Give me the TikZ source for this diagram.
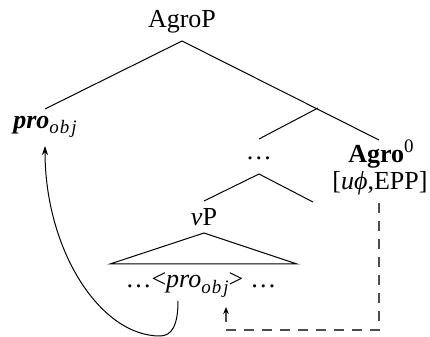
\documentclass[tikz,border=0pt]{standalone}
\usepackage{fontspec}
\setmainfont{Liberation Serif}
\usetikzlibrary{arrows.meta}
\begin{document}
\begin{tikzpicture}[x=0.5pt,y=-0.5pt,
  lbl/.style={inner sep=0pt, font=\fontsize{13}{15}\selectfont},
  branch/.style={line width=0.5pt},
  movearrow/.style={line width=0.5pt,-{Stealth[length=4.5pt,width=3pt]}},
  agree/.style={line width=0.6pt, draw=black!70, dash pattern=on 5pt off 4pt,
     -{Stealth[length=3.5pt,width=2.8pt,black]}}]
\useasboundingbox (0,0) rectangle (430,337);
% labels
\node[lbl] (agrop) at (182,22) {AgroP};
\node[lbl] (pro) at (45,127) {\textbf{\textit{pro}}\raisebox{-0.45ex}{\fontsize{9.5}{10}\selectfont\itshape o\kern0.5pt b\kern1pt j}};
\node[lbl] (dots) at (259,158) {\ldots};
\node[lbl] (agro) at (381,154) {\textbf{Agro}\raisebox{0.9ex}{\fontsize{9.5}{10}\selectfont 0}};
\node[lbl] (feat) at (380,183) {[\textit{u}\textit{ϕ},EPP]};
\node[lbl] (vp) at (204,217) {\textit{v}P};
\node[lbl] (low) at (201,285) {\ldots<\textit{pro}\raisebox{-0.45ex}{\fontsize{9.5}{10}\selectfont\itshape o\kern0.5pt b\kern1pt j}>\;\ldots};
% attach points
\coordinate (agropB) at (182,41);
\coordinate (proT) at (45,109);
\coordinate (bar) at (318,108);
\coordinate (dotsT) at (259,139);
\coordinate (agroT) at (379,140);
\coordinate (dotsB) at (259,174);
\coordinate (vpT) at (204,201);
\coordinate (emptyT) at (313,202);
\coordinate (triA) at (204,233);
\coordinate (triL) at (110,264);
\coordinate (triR) at (297,264);
\coordinate (lowB) at (178,301);
\coordinate (bend) at (160,336);
\coordinate (proB) at (45,146);
\coordinate (featB) at (379,203);
\coordinate (c1) at (379,330);
\coordinate (c2) at (226,330);
\coordinate (lowT) at (226,307);
% tree
\draw[branch] (proT) -- (agropB) -- (agroT);
\draw[branch] (dotsT) -- (bar);
\draw[branch] (vpT) -- (dotsB) -- (emptyT);
\draw[branch] (triL) -- (triA) -- (triR) -- cycle;
% movement
\draw[movearrow] (lowB) .. controls (178,325) and (172,336) .. (bend)
   .. controls (100,336) and (45,250) .. (proB);
% agree
\draw[agree] (featB) -- (c1) -- (c2) -- (lowT);
\end{tikzpicture}
\end{document}
